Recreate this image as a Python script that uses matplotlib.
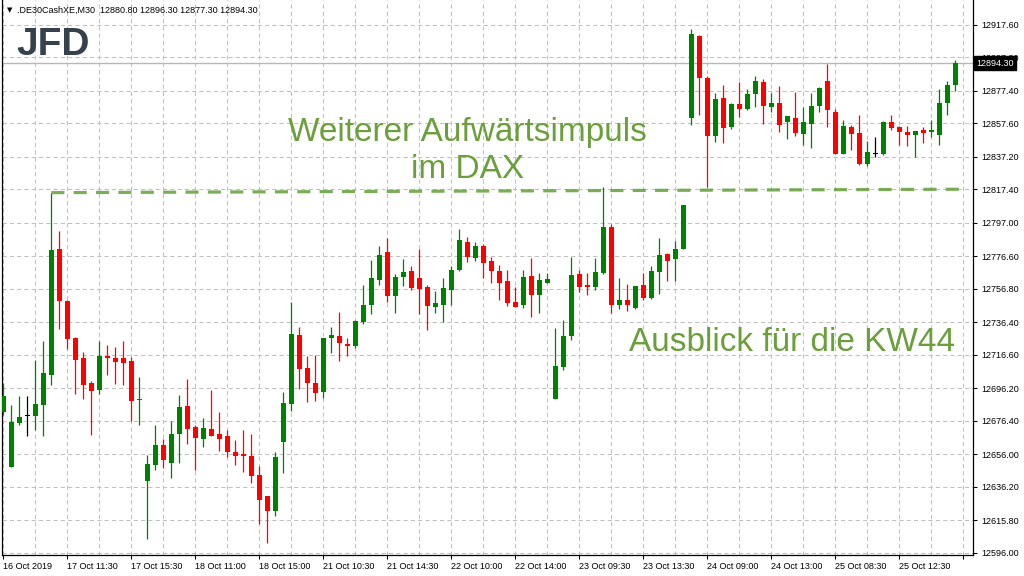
import matplotlib
matplotlib.use("Agg")
import matplotlib.pyplot as plt
import numpy as np
from matplotlib.transforms import blended_transform_factory

# ---------------- data (M30 candles, .DE30CashXE) ----------------
opens = [12681.9, 12648.4, 12675.2, 12679.1, 12679.5, 12686.2, 12704.5, 12781.0, 12749.4, 12726.8,
         12714.6, 12699.4, 12695.3, 12715.8, 12714.6, 12714.6, 12712.8, 12689.2, 12639.9, 12649.6,
         12661.6, 12650.8, 12668.5, 12685.4, 12672.6, 12665.5, 12671.4, 12668.3, 12667.1, 12657.4,
         12656.4, 12654.9, 12643.3, 12630.5, 12621.6, 12663.4, 12686.8, 12728.7, 12708.5, 12699.4,
         12694.1, 12726.8, 12728.0, 12723.2, 12721.9, 12736.4, 12747.0, 12762.4, 12779.2, 12752.6,
         12764.0, 12767.6, 12763.4, 12757.9, 12745.9, 12747.0, 12756.1, 12768.3, 12785.3, 12775.6,
         12782.9, 12773.8, 12767.6, 12761.5, 12748.8, 12747.0, 12764.6, 12753.2, 12760.4, 12689.7,
         12709.1, 12728.2, 12765.8, 12759.1, 12757.9, 12766.4, 12794.5, 12747.1, 12750.0, 12745.3,
         12759.1, 12751.4, 12767.0, 12778.0, 12775.0, 12781.1, 12861.1, 12910.9, 12885.3, 12850.1,
         12873.1, 12855.6, 12869.4, 12866.6, 12875.5, 12882.8, 12867.8, 12870.0, 12858.3, 12860.9,
         12851.3, 12857.4, 12868.4, 12883.4, 12864.5, 12839.0, 12855.4, 12851.7, 12832.8, 12839.0,
         12839.0, 12858.5, 12855.4, 12852.4, 12850.5, 12853.6, 12852.4, 12850.5, 12870.0, 12880.8]
highs = [12699.6, 12686.0, 12691.5, 12691.5, 12713.4, 12725.0, 12815.4, 12792.0, 12749.8, 12727.5,
         12718.3, 12700.6, 12725.0, 12722.5, 12721.3, 12725.0, 12715.4, 12703.0, 12655.5, 12673.8,
         12665.3, 12676.4, 12692.1, 12701.8, 12673.8, 12678.0, 12695.1, 12681.7, 12670.8, 12664.7,
         12670.8, 12668.3, 12648.8, 12630.5, 12657.4, 12693.9, 12748.8, 12733.5, 12715.8, 12716.4,
         12726.8, 12733.5, 12742.7, 12726.8, 12737.8, 12759.2, 12774.4, 12782.9, 12787.9, 12765.8,
         12775.2, 12770.7, 12781.2, 12759.1, 12755.4, 12763.4, 12770.7, 12793.3, 12788.4, 12785.3,
         12784.1, 12776.2, 12771.3, 12768.3, 12757.9, 12768.3, 12775.6, 12766.4, 12766.4, 12732.9,
         12737.8, 12776.2, 12768.3, 12766.4, 12775.6, 12818.9, 12796.3, 12763.4, 12759.7, 12758.5,
         12766.4, 12770.7, 12787.7, 12778.6, 12786.0, 12807.9, 12915.1, 12911.5, 12886.5, 12876.1,
         12881.0, 12870.0, 12882.8, 12878.6, 12886.5, 12884.7, 12876.1, 12880.4, 12862.4, 12876.7,
         12867.6, 12876.1, 12879.8, 12893.8, 12866.4, 12859.7, 12856.6, 12862.7, 12846.8, 12849.3,
         12859.1, 12862.7, 12856.0, 12856.0, 12853.0, 12855.4, 12859.7, 12878.5, 12883.4, 12896.3]
lows = [12679.9, 12648.4, 12673.8, 12667.1, 12670.8, 12667.1, 12698.4, 12732.5, 12720.1, 12692.9,
        12689.8, 12667.7, 12692.5, 12704.5, 12699.0, 12698.4, 12676.4, 12673.8, 12604.1, 12646.4,
        12647.8, 12641.7, 12650.8, 12662.4, 12646.6, 12660.6, 12667.0, 12658.0, 12654.5, 12649.5,
        12645.4, 12638.7, 12613.7, 12602.1, 12618.5, 12644.8, 12682.3, 12696.0, 12687.8, 12688.6,
        12690.3, 12717.7, 12712.8, 12715.8, 12720.7, 12735.4, 12741.7, 12759.1, 12748.8, 12742.0,
        12758.5, 12756.0, 12741.5, 12732.0, 12742.0, 12736.8, 12747.0, 12767.6, 12773.2, 12773.8,
        12763.2, 12760.3, 12750.0, 12746.3, 12745.7, 12745.1, 12739.8, 12742.3, 12760.4, 12689.7,
        12707.3, 12725.6, 12754.8, 12753.2, 12756.1, 12765.8, 12742.3, 12744.3, 12743.0, 12744.3,
        12750.0, 12750.8, 12753.8, 12761.6, 12761.6, 12781.1, 12856.9, 12862.9, 12819.0, 12846.5,
        12845.9, 12854.4, 12861.7, 12866.0, 12867.8, 12857.4, 12864.8, 12852.6, 12848.3, 12850.1,
        12844.3, 12842.5, 12864.8, 12855.6, 12839.0, 12839.0, 12841.6, 12832.2, 12831.6, 12837.2,
        12838.4, 12853.6, 12844.4, 12843.8, 12837.2, 12845.7, 12849.3, 12844.4, 12862.7, 12877.3]
closes = [12691.5, 12675.4, 12678.7, 12679.1, 12686.6, 12705.5, 12780.4, 12749.6, 12726.4, 12713.6,
          12698.4, 12694.7, 12715.8, 12714.8, 12712.4, 12711.8, 12688.6, 12689.6, 12650.0, 12661.6,
          12652.7, 12668.3, 12684.8, 12671.6, 12666.1, 12672.0, 12667.3, 12665.5, 12657.4, 12655.1,
          12655.1, 12642.7, 12628.3, 12621.6, 12654.3, 12687.2, 12729.3, 12707.9, 12699.4, 12693.3,
          12726.8, 12728.7, 12723.8, 12721.9, 12737.2, 12747.0, 12763.4, 12777.4, 12752.6, 12764.0,
          12767.0, 12757.5, 12756.7, 12746.5, 12748.1, 12757.3, 12768.3, 12786.6, 12776.2, 12782.9,
          12772.5, 12767.6, 12760.3, 12748.1, 12745.7, 12764.0, 12753.2, 12762.2, 12762.8, 12709.8,
          12728.0, 12765.2, 12757.9, 12757.9, 12767.0, 12794.5, 12747.1, 12750.0, 12747.1, 12758.5,
          12751.4, 12767.6, 12777.4, 12773.7, 12781.1, 12807.9, 12912.1, 12885.5, 12850.1, 12872.4,
          12855.0, 12869.4, 12866.6, 12875.5, 12883.4, 12868.4, 12870.0, 12856.9, 12862.4, 12852.0,
          12858.5, 12868.2, 12879.2, 12866.0, 12839.0, 12856.0, 12851.3, 12832.8, 12840.1, 12839.0,
          12858.5, 12854.8, 12852.4, 12850.5, 12853.0, 12851.8, 12853.6, 12870.0, 12881.0, 12894.3]

x_tick_labels = ["16 Oct 2019", "17 Oct 11:30", "17 Oct 15:30", "18 Oct 11:00", "18 Oct 15:00",
                 "21 Oct 10:30", "21 Oct 14:30", "22 Oct 10:00", "22 Oct 14:00", "23 Oct 09:30",
                 "23 Oct 13:30", "24 Oct 09:00", "24 Oct 13:00", "25 Oct 08:30", "25 Oct 12:30", ""]
y_ticks = [12596.00, 12615.80, 12636.20, 12656.00, 12676.40, 12696.20, 12716.60, 12736.40,
           12756.80, 12776.60, 12797.00, 12817.40, 12837.20, 12857.60, 12877.40, 12897.80, 12917.60]
last_price = 12894.30
trend_x = [6, 120]
trend_y = [12815.4, 12817.5]
header = ".DE30CashXE,M30  12880.80 12896.30 12877.30 12894.30"
title_lines = ["Weiterer Aufwärtsimpuls", "im DAX"]
subtitle = "Ausblick für die KW44"

# ---------------- figure ----------------
FONT = ["Liberation Sans", "DejaVu Sans"]
plt.rcParams["font.family"] = FONT
W, H = 1024, 576
fig = plt.figure(figsize=(W / 100, H / 100), dpi=100)
fig.patch.set_facecolor("white")
ax = fig.add_axes([2.3 / W, 21 / H, 971 / W, 555 / H])
ax.set_facecolor("white")

n = len(opens)
idx = np.arange(n)
o = np.array(opens); c = np.array(closes); hi = np.array(highs); lo = np.array(lows)
cols = np.where(c > o, "#008000", np.where(c < o, "#ff0000", "#000000"))

ax.set_xlim(-0.125, 121.25)
ax.set_ylim(12594.6, 12932.8)

# grid
ax.set_xticks(np.arange(0, n + 1, 8))
ax.set_xticklabels(x_tick_labels, ha="left")
ax.set_xticks(np.arange(4, n + 1, 8), minor=True)
ax.set_yticks(y_ticks)
ax.set_yticklabels([f"{v:.2f}" for v in y_ticks])
ax.yaxis.tick_right()
ax.grid(True, which="both", color="#c0c0c0", linestyle=(0, (4, 3)), linewidth=0.75, zorder=0)
ax.set_axisbelow(True)
ax.tick_params(axis="both", which="major", direction="out", length=3, width=0.75,
               labelsize=6.5, colors="black", pad=2)
ax.tick_params(axis="x", which="minor", length=0)
ax.tick_params(axis="y", pad=3)

for s in ["left", "right", "bottom"]:
    ax.spines[s].set_color("black")
    ax.spines[s].set_linewidth(0.9)
ax.spines["top"].set_visible(False)

# current price line
ax.axhline(last_price, color="#b8b8b8", lw=1.0, zorder=1)

# candles
ax.vlines(idx, lo, hi, colors=cols, lw=0.9, zorder=3)
body_h = np.maximum(np.abs(c - o), 0.7)
body_b = np.minimum(o, c)
ax.bar(idx, body_h, bottom=body_b, width=0.6, color=cols, linewidth=0, zorder=4)

# trend line
ax.plot(trend_x, trend_y, color="#62a03a", lw=2.3, alpha=0.85,
        linestyle=(0, (4.1, 2.9)), solid_capstyle="butt", zorder=5)

# price label box
tr = blended_transform_factory(ax.transAxes, ax.transData)
ax.text(1.0 + 3 / 971, last_price, f"{last_price:.2f}", transform=tr, color="white",
        fontsize=6.5, va="center", ha="left", zorder=10, clip_on=False,
        bbox=dict(boxstyle="square,pad=0.25", fc="black", ec="black"))

# header
fig.text(7 / W, 1 - 10.5 / H, "\u25BC", fontsize=5, va="center", ha="left",
         family=["DejaVu Sans"], color="black")
fig.text(17 / W, 1 - 10.5 / H, header, fontsize=6.5, va="center", ha="left", color="black")

# logo
fig.text(16 / W, 1 - 55 / H, "JFD", fontsize=28, fontweight="bold", color="#36414b",
         va="baseline", ha="left", zorder=6)

# annotations
green = "#6a9f3c"
fig.text(467.5 / W, 1 - 141 / H, title_lines[0], fontsize=24, color=green,
         ha="center", va="baseline")
fig.text(467.5 / W, 1 - 178 / H, title_lines[1], fontsize=24, color=green,
         ha="center", va="baseline")
fig.text(955 / W, 1 - 350.7 / H, subtitle, fontsize=24, color=green,
         ha="right", va="baseline")

fig.savefig("out.png", dpi=100, facecolor="white")
